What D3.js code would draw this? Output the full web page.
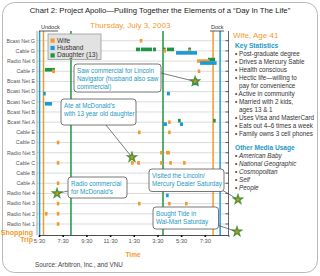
<!DOCTYPE html>
<html>
<head>
<meta charset="utf-8">
<script src="https://cdn.jsdelivr.net/npm/d3@7"></script>
<style>
  body { margin: 0; background: #fff; }
  svg { display: block; font-family: "Liberation Sans", Arial, sans-serif; }
</style>
</head>
<body>
<div id="chart"></div>
<script>
// media outlets, top to bottom
const rows = ["Bcast Net G", "Cable G", "Radio Net 6", "Cable F", "Bcast Net E", "Bcast Net D",
  "Bcast Net C", "Bcast Net B", "Bcast Net A", "Cable E", "Cable D", "Radio Net 5", "Cable C",
  "Cable B", "Cable A", "Radio Net 4", "Radio Net 3", "Radio Net 2", "Radio Net 1"];

const tickHours = [5.5, 7.5, 9.5, 11.5, 13.5, 15.5, 17.5, 19.5];
const tickLabels = ["5:30", "7:30", "9:30", "11:30", "1:30", "3:30", "5:30", "7:30"];

// exposure segments: [outlet, start hour, end hour]
const wifeSegs = [
  ["Bcast Net G", 14.0, 14.2], ["Cable G", 16.0, 16.1], ["Cable G", 18.1, 18.2],
  ["Radio Net 6", 18.85, 19.9], ["Cable F", 6.6, 6.85], ["Cable F", 18.9, 19.0],
  ["Bcast Net A", 16.4, 16.6], ["Cable E", 13.86, 13.96], ["Cable E", 16.4, 16.5],
  ["Cable D", 7.0, 7.1], ["Radio Net 5", 15.72, 15.85], ["Radio Net 5", 16.23, 16.55],
  ["Cable C", 7.0, 7.1], ["Cable C", 13.27, 13.5], ["Cable C", 13.78, 14.03],
  ["Cable C", 15.72, 15.82], ["Cable C", 16.5, 16.7], ["Cable C", 17.66, 17.76],
  ["Cable A", 7.0, 7.1], ["Radio Net 3", 7.0, 7.1], ["Radio Net 3", 13.86, 13.96],
  ["Radio Net 3", 16.4, 16.5], ["Radio Net 3", 17.83, 17.93], ["Radio Net 2", 6.0, 6.1],
  ["Radio Net 2", 7.0, 7.1], ["Radio Net 1", 7.0, 7.1]
];
const husbandSegs = [
  ["Cable G", 17.07, 18.84], ["Radio Net 6", 19.1, 20.5], ["Bcast Net E", 18.45, 18.95],
  ["Bcast Net D", 5.85, 5.95], ["Bcast Net D", 16.3, 16.55], ["Bcast Net C", 6.0, 6.6],
  ["Bcast Net A", 15.97, 16.3], ["Bcast Net A", 17.41, 17.66], ["Radio Net 4", 16.23, 16.35]
];
const daughterSegs = [
  ["Cable G", 13.69, 14.03], ["Cable G", 14.1, 15.04], ["Cable G", 15.13, 15.38],
  ["Cable G", 15.97, 16.1], ["Cable G", 16.3, 16.9], ["Cable G", 18.1, 18.34],
  ["Radio Net 6", 19.77, 20.36], ["Cable F", 6.0, 6.85], ["Bcast Net E", 18.6, 18.75],
  ["Bcast Net A", 17.24, 17.32], ["Bcast Net A", 20.2, 20.3]
];

// meter undock / dock times: [person, hour]
const dockTimes = [["husband", 5.55], ["wife", 5.88], ["daughter", 8.2],
  ["daughter", 15.97], ["wife", 20.2], ["husband", 20.79]];

// starred events: row index (fractional for Saturday events outside the grid) and hour
const starRow = [4, 11.45, 15, 15.6, 18.75];
const starHour = [18.68, 13.35, 7.02, 22.3, 22.22];

const keyStats = ["Post-graduate degree", "Drives a Mercury Sable", "Health conscious",
  "Hectic life\u2014willing to", "  pay for convenience", "Active in community",
  "Married with 2 kids,", "  ages 13 & 1", "Uses Visa and MasterCard",
  "Eats out 4\u20136 times a week", "Family owns 3 cell phones"];
const mediaUsage = ["American Baby", "National Geographic", "Cosmopolitan", "Self", "People"];

const colors = { wife: "#f39a2e", husband: "#1b9ad8", daughter: "#1c9640" };
const teal = "#2399c4";

const W = 320, H = 276;
const svg = d3.select("#chart").append("svg").attr("width", W).attr("height", H);

svg.append("rect")
  .attr("x", 2.5).attr("y", 2.5).attr("width", 315).attr("height", 270)
  .attr("rx", 12).attr("fill", "#fff").attr("stroke", "#b8b8b8");

svg.append("text")
  .attr("x", 160).attr("y", 12.5).attr("text-anchor", "middle")
  .attr("font-size", 7.7).attr("fill", "#222")
  .text("Chart 2: Project Apollo\u2014Pulling Together the Elements of a \u201cDay In The Life\u201d");

svg.append("text")
  .attr("x", 90).attr("y", 28).attr("font-size", 8).attr("fill", "#f39a2e")
  .text("Thursday, July 3, 2003");

const x = d3.scaleLinear().domain([5.5, 21.5]).range([39, 228.5]);
const y = d3.scaleLinear().domain([0, rows.length - 1]).range([40.7, 224]);
const plotTop = 31, plotBottom = 235;

// grid rows
svg.append("g").selectAll("line")
  .data(rows).enter().append("line")
  .attr("x1", 37).attr("x2", x.range()[1])
  .attr("y1", (d, i) => y(i)).attr("y2", (d, i) => y(i))
  .attr("stroke", "#d2d2d2").attr("stroke-width", 0.8);

svg.append("g").selectAll("text")
  .data(rows).enter().append("text")
  .attr("x", 35).attr("y", (d, i) => y(i)).attr("dy", "0.35em")
  .attr("text-anchor", "end").attr("font-size", 5.3).attr("fill", "#555")
  .text(d => d);

// right axis with small ticks
svg.append("line")
  .attr("x1", x.range()[1]).attr("x2", x.range()[1]).attr("y1", plotTop).attr("y2", plotBottom)
  .attr("stroke", "#444").attr("stroke-width", 0.8);
svg.append("g").selectAll("line")
  .data(rows).enter().append("line")
  .attr("x1", x.range()[1] - 3).attr("x2", x.range()[1])
  .attr("y1", (d, i) => y(i)).attr("y2", (d, i) => y(i))
  .attr("stroke", "#333").attr("stroke-width", 0.8);
svg.append("line")
  .attr("x1", 37).attr("x2", 37).attr("y1", plotTop).attr("y2", plotBottom)
  .attr("stroke", "#666").attr("stroke-width", 0.6);

// undock / dock lines
svg.append("g").selectAll("line")
  .data(dockTimes).enter().append("line")
  .attr("x1", d => x(d[1])).attr("x2", d => x(d[1]))
  .attr("y1", plotTop).attr("y2", plotBottom)
  .attr("stroke", d => colors[d[0]]).attr("stroke-width", 1.5);

svg.append("text").attr("x", 41).attr("y", 29).attr("font-size", 5.5).attr("fill", "#333").text("Undock");
svg.append("line").attr("x1", 39).attr("x2", 58).attr("y1", 31).attr("y2", 31).attr("stroke", "#333").attr("stroke-width", 0.8);
svg.append("text").attr("x", 211).attr("y", 29).attr("font-size", 5.5).attr("fill", "#333").text("Dock");
svg.append("line").attr("x1", 210).attr("x2", 224).attr("y1", 31).attr("y2", 31).attr("stroke", "#333").attr("stroke-width", 0.8);

// x axis
const xAxis = svg.append("g")
  .attr("transform", `translate(0,${plotBottom})`)
  .call(d3.axisBottom(x).tickValues(tickHours).tickFormat((d, i) => tickLabels[i]).tickSize(2).tickPadding(2));
xAxis.select(".domain").attr("stroke", "#222").attr("stroke-width", 0.8);
xAxis.selectAll(".tick line").attr("stroke", "#111").attr("stroke-width", 1.6);
xAxis.selectAll(".tick text").attr("font-size", 5.8).attr("fill", "#555")
  .attr("font-family", "Liberation Sans, Arial, sans-serif");

svg.append("text").attr("x", 133).attr("y", 257).attr("text-anchor", "middle")
  .attr("font-size", 6.5).attr("font-weight", "bold").attr("fill", "#f39a2e").text("Time");
svg.append("text").attr("x", 33).attr("y", 234.5).attr("text-anchor", "end")
  .attr("font-size", 7).attr("font-weight", "bold").attr("fill", "#f39a2e").text("Shopping");
svg.append("text").attr("x", 33).attr("y", 242).attr("text-anchor", "end")
  .attr("font-size", 7).attr("font-weight", "bold").attr("fill", "#f39a2e").text("Trip");

svg.append("text").attr("x", 35).attr("y", 266.5).attr("font-size", 6.3).attr("fill", "#444")
  .text("Source: Arbitron, Inc., and VNU");

// exposure marks
function drawSegs(segs, person, offset) {
  svg.append("g").selectAll("rect")
    .data(segs).enter().append("rect")
    .attr("x", d => x(d[1]))
    .attr("width", d => Math.max(2.6, x(d[2]) - x(d[1])))
    .attr("y", d => y(rows.indexOf(d[0])) + offset - 1.8)
    .attr("height", 3.6)
    .attr("fill", colors[person]);
}
drawSegs(daughterSegs, "daughter", -1.5);
drawSegs(wifeSegs, "wife", 0);
drawSegs(husbandSegs, "husband", 2);

// legend
const legend = svg.append("g");
legend.append("rect").attr("x", 48).attr("y", 34).attr("width", 53).attr("height", 25.5)
  .attr("fill", "#e2e2e2").attr("stroke", "#999").attr("stroke-width", 0.8);
const legendItems = [["wife", "Wife"], ["husband", "Husband"], ["daughter", "Daughter (13)"]];
legendItems.forEach((d, i) => {
  legend.append("rect").attr("x", 50.5).attr("y", 38.5 + i * 7.4).attr("width", 4.2).attr("height", 4.2)
    .attr("fill", colors[d[0]]);
  legend.append("text").attr("x", 57).attr("y", 42.5 + i * 7.4).attr("font-size", 6.6).attr("fill", "#333")
    .text(d[1]);
});

// callouts
const starPos = starRow.map((r, i) => [x(starHour[i]), y(r)]);
const callouts = [
  { lines: ["Saw commercial for Lincoln", "Navigator (husband also saw", "commercial)"], box: [74, 64, 87, 28], from: [161, 73], star: 0 },
  { lines: ["Ate at McDonald\u2019s", "with 13 year old daughter"], box: [61, 99, 75, 26], from: [106, 125], star: 1 },
  { lines: ["Radio commercial", "for McDonald\u2019s"], box: [68, 177, 59, 21], from: [68, 191], star: 2 },
  { lines: ["Visited the Lincoln/", "Mercury Dealer Saturday"], box: [149, 169, 75, 22.5], from: [222, 190], star: 3 },
  { lines: ["Bought Tide in", "Wal-Mart Saturday"], box: [153, 207, 65.5, 22], from: [217, 225], star: 4 }
];
callouts.forEach(c => {
  const g = svg.append("g");
  g.append("line").attr("x1", c.from[0]).attr("y1", c.from[1])
    .attr("x2", starPos[c.star][0]).attr("y2", starPos[c.star][1])
    .attr("stroke", "#444").attr("stroke-width", 0.7);
  g.append("rect").attr("x", c.box[0]).attr("y", c.box[1]).attr("width", c.box[2]).attr("height", c.box[3])
    .attr("rx", 3).attr("fill", "#fff").attr("stroke", "#555").attr("stroke-width", 0.8);
  c.lines.forEach((t, i) => {
    g.append("text").attr("x", c.box[0] + 3).attr("y", c.box[1] + 8.5 + i * 8)
      .attr("font-size", 6.3).attr("fill", teal).text(t);
  });
});

// stars
const stars = svg.append("g").selectAll("g")
  .data(starPos).enter().append("g")
  .attr("transform", d => `translate(${d[0]},${d[1]})`);
stars.append("path").attr("d", d3.symbol(d3.symbolStar).size(40)())
  .attr("fill", "#3c9a2c").attr("stroke", "#2a7a20").attr("stroke-width", 0.4);
stars.append("path").attr("d", d3.symbol(d3.symbolStar).size(9)())
  .attr("fill", "#d98a2a");

// right panel
const panel = svg.append("g");
panel.append("text").attr("x", 233).attr("y", 38).attr("font-size", 8).attr("fill", "#f39a2e").text("Wife, Age 41");
panel.append("text").attr("x", 235).attr("y", 48).attr("font-size", 6.6).attr("font-weight", "bold")
  .attr("fill", teal).text("Key Statistics");
keyStats.forEach((t, i) => {
  const indented = t.startsWith("  ");
  panel.append("text").attr("x", indented ? 239 : 235).attr("y", 55.6 + i * 8)
    .attr("font-size", 6.3).attr("fill", "#333")
    .text(indented ? t.trim() : "\u2022 " + t);
});
panel.append("text").attr("x", 235).attr("y", 149.5).attr("font-size", 6.6).attr("font-weight", "bold")
  .attr("fill", teal).text("Other Media Usage");
mediaUsage.forEach((t, i) => {
  const line = panel.append("text").attr("x", 235).attr("y", 158.3 + i * 8)
    .attr("font-size", 6.3).attr("fill", "#333");
  line.append("tspan").text("\u2022 ");
  line.append("tspan").attr("font-style", "italic").text(t);
});
</script>
</body>
</html>
